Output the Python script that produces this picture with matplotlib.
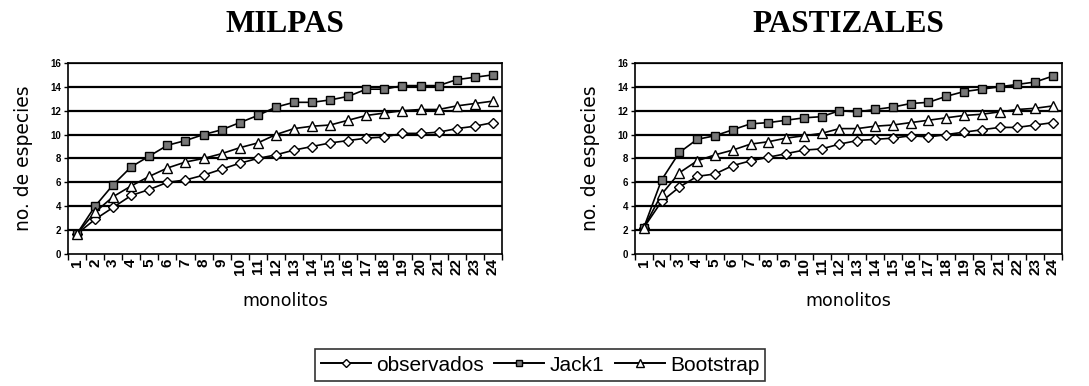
import matplotlib
matplotlib.use("Agg")
import matplotlib.pyplot as plt
from matplotlib.lines import Line2D

monolitos = list(range(1, 25))

# MILPAS
milpas_obs = [1.7, 2.9, 3.9, 4.9, 5.4, 6.0, 6.2, 6.6, 7.1, 7.6, 8.0, 8.3,
              8.7, 9.0, 9.3, 9.5, 9.7, 9.8, 10.1, 10.1, 10.2, 10.5, 10.7, 11.0]
milpas_jack = [1.7, 4.0, 5.8, 7.3, 8.2, 9.1, 9.5, 10.0, 10.4, 11.0, 11.6, 12.3,
               12.7, 12.7, 12.9, 13.2, 13.8, 13.8, 14.1, 14.1, 14.1, 14.6, 14.8, 15.0]
milpas_boot = [1.7, 3.5, 4.8, 5.7, 6.5, 7.2, 7.7, 8.0, 8.4, 8.9, 9.3, 10.0,
               10.5, 10.7, 10.8, 11.2, 11.6, 11.8, 12.0, 12.1, 12.1, 12.4, 12.6, 12.8]

# PASTIZALES
past_obs = [2.2, 4.4, 5.6, 6.5, 6.7, 7.4, 7.8, 8.1, 8.4, 8.7, 8.8, 9.2,
            9.5, 9.6, 9.7, 9.9, 9.8, 10.0, 10.2, 10.4, 10.6, 10.6, 10.8, 11.0]
past_jack = [2.2, 6.2, 8.5, 9.6, 9.9, 10.4, 10.9, 11.0, 11.2, 11.4, 11.5, 12.0,
             11.9, 12.1, 12.3, 12.6, 12.7, 13.2, 13.6, 13.8, 14.0, 14.2, 14.4, 14.9]
past_boot = [2.2, 5.0, 6.8, 7.8, 8.3, 8.7, 9.2, 9.4, 9.7, 9.9, 10.1, 10.5,
             10.5, 10.7, 10.8, 11.0, 11.2, 11.4, 11.6, 11.7, 11.9, 12.1, 12.2, 12.4]

titles = ["MILPAS", "PASTIZALES"]
series_labels = ["observados", "Jack1", "Bootstrap"]

plt.rcParams['font.family'] = ['Liberation Sans', 'DejaVu Sans']

fig = plt.figure(figsize=(10.89, 3.86), dpi=100)
ax1 = fig.add_axes([0.0624, 0.342, 0.3985, 0.495])
ax2 = fig.add_axes([0.583, 0.342, 0.392, 0.495])

styles = [
    dict(marker="D", markersize=5.5, markerfacecolor="white"),
    dict(marker="s", markersize=6, markerfacecolor="#777777"),
    dict(marker="^", markersize=7, markerfacecolor="white"),
]

for ax, title, data in [(ax1, titles[0], (milpas_obs, milpas_jack, milpas_boot)),
                        (ax2, titles[1], (past_obs, past_jack, past_boot))]:
    for y in range(2, 17, 2):
        ax.axhline(y, color="black", lw=1.6, zorder=1)
    for vals, st in zip(data, styles):
        ax.plot(monolitos, vals, color="black", lw=1.2, markeredgecolor="black",
                markeredgewidth=1.0, zorder=3, **st)
    ax.set_xlim(0.5, 24.5)
    ax.set_ylim(0, 16)
    ax.set_yticks(range(0, 17, 2))
    ax.set_yticklabels([str(v) for v in range(0, 17, 2)], fontsize=7, fontweight="bold")
    ax.set_xticks(monolitos)
    ax.set_xticklabels([str(v) for v in monolitos], rotation=90, fontsize=11,
                       fontweight="bold")
    ax.set_xticks([v + 0.5 for v in range(0, 25)], minor=True)
    ax.tick_params(axis="x", which="major", length=0, pad=3)
    ax.tick_params(axis="x", which="minor", length=4, width=1)
    ax.tick_params(axis="y", length=3, width=1, pad=2)
    for s in ax.spines.values():
        s.set_linewidth(1.2)
    ax.set_ylabel("no. de especies", fontsize=13.5, labelpad=12,
                  family=["DejaVu Sans"])
    ax.set_xlabel("monolitos", fontsize=12.5, labelpad=12, family=["DejaVu Sans"])
    ax.set_title(title, fontsize=22.5, fontweight="bold",
                 family=["Liberation Serif", "DejaVu Serif"], pad=22)

handles = [Line2D([0], [0], color="black", lw=1.4, markeredgecolor="black",
                  markeredgewidth=1.0, **dict(st, markersize=st["markersize"] - 1.5))
           for st in styles]
leg = fig.legend(handles, series_labels, loc="center", ncol=3,
                 bbox_to_anchor=(0.496, 0.054), fontsize=15, frameon=True,
                 fancybox=False, edgecolor="black", handlelength=2.4,
                 handletextpad=0.25, columnspacing=0.5, borderpad=0.3)
leg.get_frame().set_linewidth(1.2)

fig.savefig("out.png", dpi=100)
